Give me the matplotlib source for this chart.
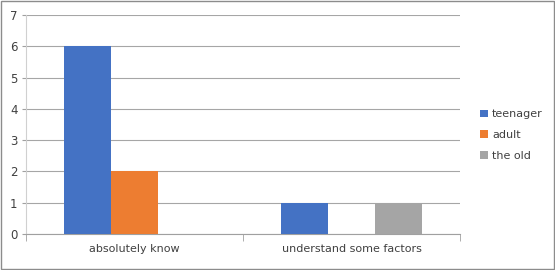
import matplotlib
matplotlib.use("Agg")
import matplotlib.pyplot as plt
import numpy as np
from matplotlib.patches import Rectangle

categories = ["absolutely know", "understand some factors"]
series = ["teenager", "adult", "the old"]
teenager = [6, 1]
adult = [2, 0]
the_old = [0, 1]
colors = ["#4472C4", "#ED7D31", "#A5A5A5"]

plt.rcParams["font.family"] = "DejaVu Sans"

fig = plt.figure(figsize=(5.55, 2.7), dpi=100)
ax = fig.add_axes([26/555, 1-234/270, (460-26)/555, (234-15)/270])

x = np.arange(len(categories))
w = 0.217
for i, (vals, name) in enumerate(zip([teenager, adult, the_old], series)):
    ax.bar(x + (i-1)*w, vals, w, color=colors[i], label=name, zorder=3)

ax.set_xlim(-0.5, 1.5)
ax.set_ylim(0, 7)
ax.set_yticks(range(8))
ax.set_xticks(x)
ax.set_xticklabels(categories)
ax.set_xticks([-0.5, 0.5, 1.5], minor=True)
ax.tick_params(axis="x", which="major", length=0, pad=7, labelsize=8, colors="#404040")
ax.tick_params(axis="x", which="minor", length=5, color="#a0a0a0")
ax.tick_params(axis="y", length=3, color="#a0a0a0", labelsize=8.5, labelcolor="#404040", pad=3)
ax.grid(axis="y", color="#a6a6a6", lw=0.8, zorder=0)
for s in ["top", "right"]:
    ax.spines[s].set_visible(False)
ax.spines["left"].set_color("#d0d0d0")
ax.spines["bottom"].set_color("#a0a0a0")

ax.legend(loc="center left", bbox_to_anchor=(470/555, 0.5), bbox_transform=fig.transFigure,
          frameon=False, fontsize=8, handlelength=0.7, handleheight=0.7,
          handletextpad=0.4, labelspacing=0.95, labelcolor="#404040")

fig.patches.append(Rectangle((1/555, 1/270), 553/555, 268/270, transform=fig.transFigure,
                             fill=False, edgecolor="#8c8c8c", lw=1))

fig.savefig("out.png", dpi=100)
